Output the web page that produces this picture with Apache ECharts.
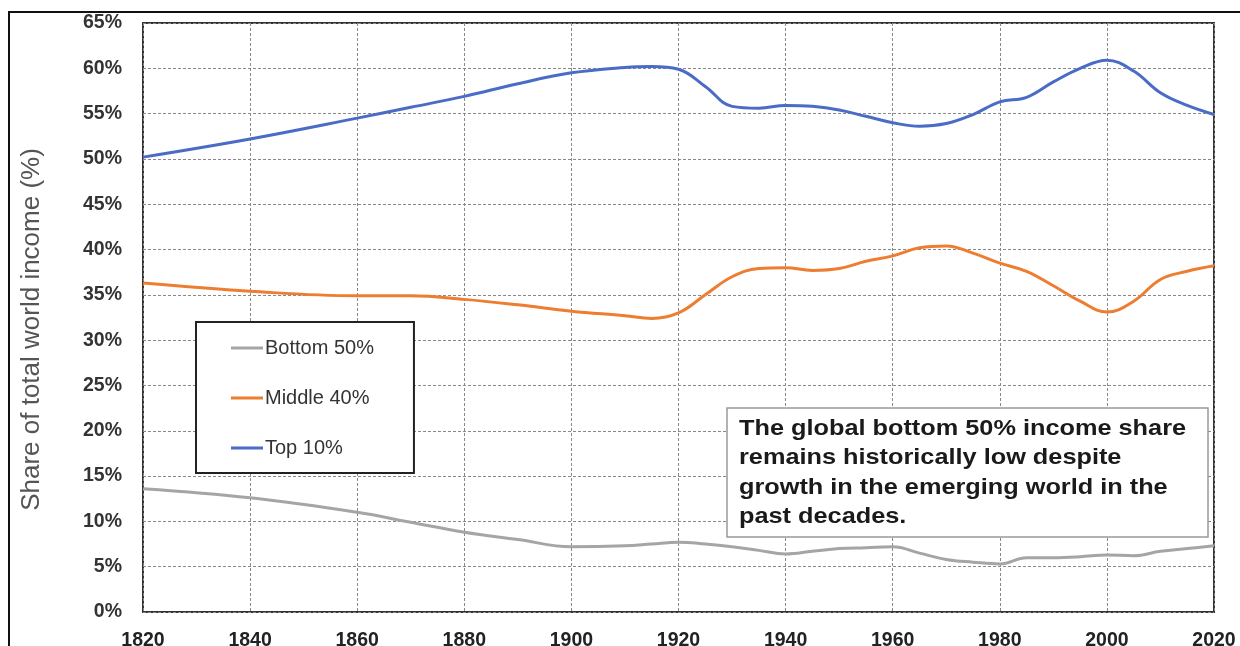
<!DOCTYPE html>
<html>
<head>
<meta charset="utf-8">
<script src="https://cdn.jsdelivr.net/npm/echarts@6/dist/echarts.min.js"></script>
<style>
  html, body { margin: 0; padding: 0; background: #fff; }
  #chart { width: 1240px; height: 646px; }
</style>
</head>
<body>
<div id="chart"></div>
<script>
// years are shared by all three series
const years = [1820, 1840, 1860, 1870, 1880, 1890, 1900, 1910, 1915, 1920, 1925, 1930, 1935, 1940, 1945, 1950, 1955, 1960, 1965, 1970, 1975, 1980, 1985, 1990, 1995, 2000, 2005, 2010, 2015, 2020]

const top10 = [50.2, 52.2, 54.5, 55.7, 56.9, 58.3, 59.5, 60.1, 60.2, 59.9, 58.0, 55.8, 55.6, 55.9, 55.8, 55.4, 54.7, 54.0, 53.6, 53.9, 54.9, 56.3, 56.8, 58.5, 60.0, 60.9, 59.7, 57.3, 55.9, 54.9]
const middle40 = [36.3, 35.4, 34.9, 34.9, 34.5, 33.9, 33.2, 32.7, 32.4, 33.0, 35.0, 37.0, 37.9, 38.0, 37.7, 37.9, 38.7, 39.3, 40.2, 40.4, 39.6, 38.5, 37.6, 36.0, 34.3, 33.1, 34.3, 36.7, 37.6, 38.2]
const bottom50 = [13.6, 12.6, 11.0, 9.9, 8.8, 8.0, 7.2, 7.3, 7.5, 7.7, 7.5, 7.2, 6.8, 6.4, 6.7, 7.0, 7.1, 7.2, 6.5, 5.8, 5.5, 5.3, 6.0, 6.0, 6.1, 6.3, 6.2, 6.7, 7.0, 7.3]

const seriesNames = ['Bottom 50%', 'Middle 40%', 'Top 10%']
const seriesColors = ['#a5a5a5', '#ed7d31', '#4a6bc6']

const note = 'The global bottom 50% income share\nremains historically low despite\ngrowth in the emerging world in the\npast decades.'

const font = '"Liberation Sans", Arial, sans-serif'
const toPairs = vals => years.map((y, i) => [y, vals[i]])

const chart = echarts.init(document.getElementById('chart'))

chart.setOption({
  animation: false,
  color: seriesColors,
  grid: {
    left: 143, right: 26, top: 23, bottom: 34,
    outerBoundsMode: 'none',
    show: true, borderColor: '#333', borderWidth: 2
  },
  legend: {
    data: seriesNames,
    orient: 'vertical',
    left: 196,
    top: 322,
    icon: 'rect',
    itemWidth: 32,
    itemHeight: 3,
    itemGap: 30,
    padding: [16, 40, 15, 35],
    backgroundColor: '#fff',
    borderColor: '#222',
    borderWidth: 2,
    textStyle: { fontFamily: font, fontSize: 20, color: '#333', padding: [0, 0, 0, -3] }
  },
  xAxis: {
    type: 'value',
    min: 1820,
    max: 2020,
    interval: 20,
    axisLine: { show: false },
    axisTick: { show: false },
    axisLabel: {
      fontFamily: font, fontSize: 19.5, fontWeight: 'bold', color: '#222', margin: 19,
      formatter: v => String(v)
    },
    splitLine: { lineStyle: { color: '#888', type: [3, 2], width: 1 } }
  },
  yAxis: {
    type: 'value',
    min: 0,
    max: 65,
    interval: 5,
    name: 'Share of total world income (%)',
    nameLocation: 'middle',
    nameGap: 98,
    // padding on the far end nudges the rotated title a little lower, as in the source
    nameTextStyle: { fontFamily: font, fontSize: 26, color: '#555', padding: [0, 24, 0, 0] },
    axisLine: { show: false },
    axisTick: { show: false },
    axisLabel: { fontFamily: font, fontSize: 19.5, fontWeight: 'bold', color: '#333', margin: 21, formatter: '{value}%' },
    splitLine: { lineStyle: { color: '#888', type: [3, 2], width: 1 } }
  },
  series: [
    { name: seriesNames[0], type: 'line', data: toPairs(bottom50), smooth: 0.4, showSymbol: false, lineStyle: { width: 3 } },
    { name: seriesNames[1], type: 'line', data: toPairs(middle40), smooth: 0.4, showSymbol: false, lineStyle: { width: 3 } },
    { name: seriesNames[2], type: 'line', data: toPairs(top10), smooth: 0.4, showSymbol: false, lineStyle: { width: 3 } }
  ],
  graphic: [
    // outer frame of the figure
    {
      type: 'rect',
      shape: { x: 9, y: 12, width: 1300, height: 700 },
      style: { fill: 'none', stroke: '#111', lineWidth: 2 },
      silent: true
    },
    // annotation box
    {
      type: 'rect',
      z: 100,
      shape: { x: 727, y: 408, width: 481, height: 129 },
      style: { fill: '#fff', stroke: '#999', lineWidth: 1.5 }
    },
    {
      type: 'text',
      z: 101,
      x: 739,
      y: 414,
      scaleX: 1.15,
      style: { text: note, font: 'bold 22px ' + font, fill: '#1a1a1a', lineHeight: 29.5 }
    }
  ]
})
</script>
</body>
</html>
